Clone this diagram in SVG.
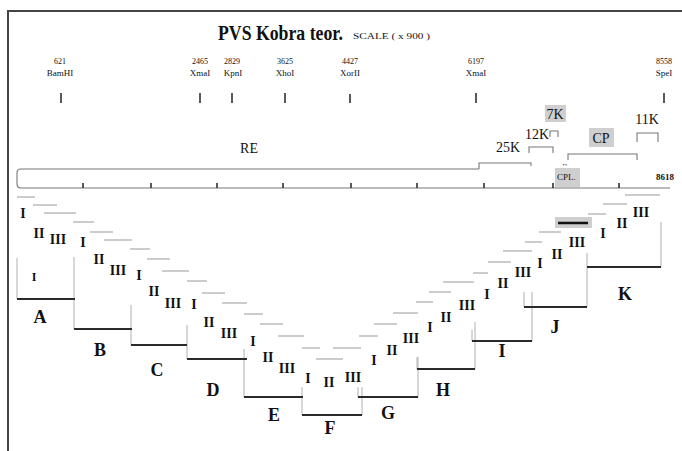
<svg xmlns="http://www.w3.org/2000/svg" width="682" height="451" viewBox="0 0 682 451">
<style>
text{font-family:"Liberation Serif","Times New Roman",serif;fill:#111}
.t{font-weight:bold;font-size:20px}
.sc{font-size:9px}
.num{font-size:8px;text-anchor:middle}
.nm{font-size:9px;text-anchor:middle}
.gl{font-size:14px;text-anchor:middle}
.rn{font-size:14px;font-weight:bold;text-anchor:middle}
.lt{font-size:18px;font-weight:bold;text-anchor:middle}
.sm{font-size:9px;font-weight:bold}
.thin{stroke:#9a9a9a;stroke-width:1.2;fill:none}
.vt{stroke:#b0b0b0;stroke-width:1;fill:none}
.bot{stroke:#2a2a2a;stroke-width:2.2;fill:none}
.tk{stroke:#222;stroke-width:1.5}
.br{stroke:#777;stroke-width:1.1;fill:none}
.box{fill:#cfcfcf}
</style>
<g id="frame">
<line x1="7" y1="11" x2="682" y2="11" stroke="#444" stroke-width="2"/>
<line x1="8" y1="11" x2="8" y2="451" stroke="#444" stroke-width="2"/>
</g>
<g id="title">
<text class="t" x="218" y="40" textLength="125" lengthAdjust="spacingAndGlyphs">PVS Kobra teor.</text>
<text class="sc" x="353" y="39" textLength="77" lengthAdjust="spacingAndGlyphs">SCALE ( x 900 )</text>
</g>
<g id="sites">
<text class="num" x="60" y="64">621</text><text class="nm" x="60" y="76">BamHI</text><line class="tk" x1="61" y1="93" x2="61" y2="103"/>
<text class="num" x="200" y="64">2465</text><text class="nm" x="200" y="76">XmaI</text><line class="tk" x1="200" y1="93" x2="200" y2="103"/>
<text class="num" x="232" y="64">2829</text><text class="nm" x="233" y="76">KpnI</text><line class="tk" x1="232" y1="93" x2="232" y2="103"/>
<text class="num" x="285" y="64">3625</text><text class="nm" x="285" y="76">XhoI</text><line class="tk" x1="285" y1="93" x2="285" y2="103"/>
<text class="num" x="350" y="64">4427</text><text class="nm" x="350" y="76">XorII</text><line class="tk" x1="350" y1="94" x2="350" y2="103"/>
<text class="num" x="476" y="64">6197</text><text class="nm" x="476" y="76">XmaI</text><line class="tk" x1="476" y1="93" x2="476" y2="103"/>
<text class="num" x="664" y="64">8558</text><text class="nm" x="664" y="76">SpeI</text><line class="tk" x1="664" y1="93" x2="664" y2="103"/>
</g>
<g id="genome">
<path class="br" d="M479,169 H21 Q17,169 17,173 V184 Q17,188 21,188 H670"/>
<line class="tk" x1="83" y1="183" x2="83" y2="188"/>
<line class="tk" x1="151" y1="183" x2="151" y2="188"/>
<line class="tk" x1="217" y1="183" x2="217" y2="188"/>
<line class="tk" x1="283" y1="183" x2="283" y2="188"/>
<line class="tk" x1="351" y1="183" x2="351" y2="188"/>
<line class="tk" x1="417" y1="183" x2="417" y2="188"/>
<line class="tk" x1="484" y1="183" x2="484" y2="188"/>
<line class="tk" x1="553" y1="183" x2="553" y2="188"/>
<line class="tk" x1="619" y1="183" x2="619" y2="188"/>
<text class="gl" x="249" y="153">RE</text>
<text class="sm" x="656" y="180">8618</text>
</g>
<g id="orfs">
<path class="br" d="M479,169 V163 H531 V166"/>
<text class="gl" x="508" y="152">25K</text>
<path class="br" d="M529,153 V147 H553 V153"/>
<text class="gl" x="537" y="139">12K</text>
<path class="br" d="M550,137 V131 H558 V137"/>
<rect class="box" x="545" y="105" width="21" height="17"/>
<text class="gl" x="555" y="119">7K</text>
<path class="br" d="M568,160 V154 H637 V160"/>
<rect class="box" x="589" y="128" width="25" height="19"/>
<text class="gl" x="601" y="143">CP</text>
<path class="br" d="M637,142 V133 H658 V142"/>
<text class="gl" x="647" y="124">11K</text>
<rect class="box" x="555" y="168" width="25" height="19"/>
<text class="sm" x="557" y="180" style="font-weight:normal">CPL.</text>
<text x="565" y="166" style="font-size:7px;text-anchor:middle">↔</text>
</g>
<g id="connectors">
<path class="thin" d="M17,197H35M33,205H57M44,213H76M73,222H94M90,232H113M104,240H132M130,249H150M147,259H170M162,271H189M187,281H207M202,293H225M222,303H247M244,314H263M260,324H283M278,336H304M302,348H320M316,359H343M333,348H361M359,336H378M374,324H397M393,313H418M416,302H433M429,292H451M443,282H474M473,273H488M488,262H511M503,251H532M525,242H542M539,232H561M588,214H606M603,204H627M625,195H660"/>
<rect class="box" x="555" y="217" width="37" height="11"/>
<line x1="558" y1="223" x2="588" y2="223" stroke="#111" stroke-width="2.5"/>
<path class="vt" d="M17,258V299M74,257V329M131,305V345M187,325V359M244,349V397M302,387V415M362,387V415M358,387V397M418,357V397M417,357V369M475,322V369M472,330V341M532,292V341M524,292V307M587,253V307M661,222V267"/>
<path class="bot" d="M17,299H75M74,329H132M131,345H187M187,359H247M244,397H303M302,415H362M358,397H418M417,369H475M472,341H532M524,307H587M587,267H661"/>
</g>
<g id="A"><text class="rn" x="23" y="218">I</text><text class="rn" x="39" y="238">II</text><text class="rn" x="58" y="244">III</text><text class="rn" x="34" y="281" style="font-size:12px">I</text><text class="lt" x="40" y="323">A</text></g>
<g id="B"><text class="rn" x="83" y="247">I</text><text class="rn" x="99" y="264">II</text><text class="rn" x="118" y="275">III</text><text class="lt" x="100" y="356">B</text></g>
<g id="C"><text class="rn" x="139" y="280">I</text><text class="rn" x="154" y="296">II</text><text class="rn" x="173" y="308">III</text><text class="lt" x="157" y="376">C</text></g>
<g id="D"><text class="rn" x="194" y="309">I</text><text class="rn" x="209" y="327">II</text><text class="rn" x="229" y="338">III</text><text class="lt" x="213" y="396">D</text></g>
<g id="E"><text class="rn" x="253" y="346">I</text><text class="rn" x="268" y="362">II</text><text class="rn" x="287" y="373">III</text><text class="lt" x="274" y="421">E</text></g>
<g id="F"><text class="rn" x="308" y="383">I</text><text class="rn" x="329" y="387">II</text><text class="rn" x="353" y="382">III</text><text class="lt" x="330" y="434">F</text></g>
<g id="G"><text class="rn" x="374" y="365">I</text><text class="rn" x="392" y="355">II</text><text class="rn" x="411" y="343">III</text><text class="lt" x="388" y="419">G</text></g>
<g id="H"><text class="rn" x="430" y="332">I</text><text class="rn" x="446" y="322">II</text><text class="rn" x="467" y="310">III</text><text class="lt" x="443" y="396">H</text></g>
<g id="I"><text class="rn" x="487" y="299">I</text><text class="rn" x="503" y="288">II</text><text class="rn" x="523" y="277">III</text><text class="lt" x="502" y="357">I</text></g>
<g id="J"><text class="rn" x="540" y="268">I</text><text class="rn" x="557" y="259">II</text><text class="rn" x="577" y="247">III</text><text class="lt" x="555" y="333">J</text></g>
<g id="K"><text class="rn" x="603" y="238">I</text><text class="rn" x="622" y="228">II</text><text class="rn" x="641" y="217">III</text><text class="lt" x="625" y="300">K</text></g>
</svg>
